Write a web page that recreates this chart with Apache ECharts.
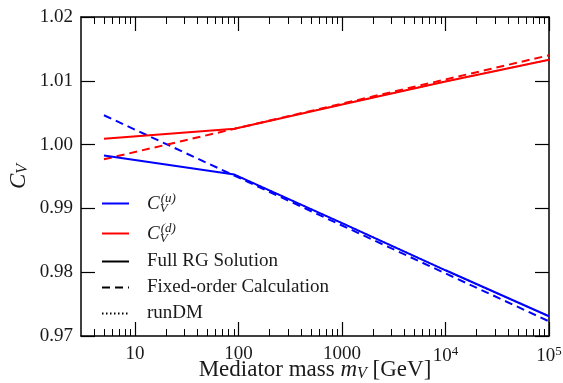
<!DOCTYPE html>
<html>
<head>
<meta charset="utf-8">
<script src="https://cdn.jsdelivr.net/npm/echarts@6/dist/echarts.min.js"></script>
<style>html,body{margin:0;padding:0;background:#fff}#c{width:563px;height:383px}</style>
</head>
<body>
<div id="c"></div>
<script>
// ---- data ----
const massFull = [5, 91.19, 1000, 10000, 100000];          // GeV
const cuFull   = [0.9983, 0.9953, 0.9877, 0.9803, 0.9731];
const cdFull   = [1.0009, 1.0025, 1.0063, 1.0099, 1.0133];
const massFixed = [5, 100000];
const cuFixed  = [1.0046, 0.9723];
const cdFixed  = [0.9977, 1.0140];
const massRun  = [91.19, 1000, 10000, 100000];
const cuRun    = [0.9953, 0.9877, 0.9803, 0.9731];
const cdRun    = [1.0025, 1.0063, 1.0099, 1.0133];
const xMin = 3, xMax = 100000;
const xMajorExp = [1, 2, 3, 4, 5];
const xMajorLabels = ['10', '100', '1000', '{b|10}{sup|4}', '{b|10}{sup|5}'];
const yTicks = [0.97, 0.98, 0.99, 1.00, 1.01, 1.02];
const legendNames = ['Cu', 'Cd', 'Full RG Solution', 'Fixed-order Calculation', 'runDM'];

const L = Math.log10;
const pts = (xs, ys) => xs.map((x, i) => [L(x), ys[i]]);
const minorTicks = [];
for (let e = 0; e <= 4; e++) for (let k = 2; k <= 9; k++) {
  const v = k * Math.pow(10, e);
  if (v > xMin && v < xMax) minorTicks.push(L(v));
}
const FONT = 'Liberation Serif';
const TXT = '#1a1a1a';
const richBase = {
  b: {fontFamily: FONT, fontSize: 19, color: TXT},
  i: {fontFamily: FONT, fontSize: 19, fontStyle: 'italic', color: TXT},
  sup: {fontFamily: FONT, fontSize: 13, color: TXT, verticalAlign: 'top', padding: [0, 0, 10, 0]},
  subz: {fontFamily: FONT, fontSize: 13, fontStyle: 'italic', color: TXT, verticalAlign: 'bottom', padding: [10, 0, 0, 0], width: 1},
  supz: {fontFamily: FONT, fontSize: 13, fontStyle: 'italic', color: TXT, verticalAlign: 'top', padding: [0, 0, 10, 0]}
};
const richTitle = {
  i: {fontFamily: FONT, fontSize: 23, fontStyle: 'italic', color: TXT},
  sub: {fontFamily: FONT, fontSize: 16, fontStyle: 'italic', color: TXT, verticalAlign: 'bottom', padding: [9, 0, 0, 0]}
};
const xBase = {type: 'value', min: L(xMin), max: L(xMax), gridIndex: 0, splitLine: {show: false}};
const chart = echarts.init(document.getElementById('c'), null, {renderer: 'canvas'});
chart.setOption({
  animation: false,
  grid: {left: 81, right: 14, top: 17, bottom: 47, containLabel: false, outerBoundsMode: 'none'},
  xAxis: [
    Object.assign({}, xBase, {
      position: 'bottom',
      axisLine: {show: true, lineStyle: {color: '#000', width: 1.5}},
      axisTick: {show: true, inside: true, length: 14, customValues: xMajorExp, lineStyle: {color: '#000', width: 1.2}},
      axisLabel: {customValues: xMajorExp, margin: 9, fontFamily: FONT, fontSize: 19, color: TXT,
        formatter: v => xMajorLabels[xMajorExp.indexOf(Math.round(v))] || '', rich: richBase},
      name: 'Mediator mass {i|m}{sub|V} [GeV]', nameLocation: 'middle', nameGap: 21, nameMoveOverlap: false,
      nameTextStyle: {fontFamily: FONT, fontSize: 23, color: TXT, rich: richTitle}
    }),
    Object.assign({}, xBase, {
      position: 'bottom', axisLine: {show: false},
      axisTick: {show: true, inside: true, length: 7, customValues: minorTicks, lineStyle: {color: '#000', width: 1}},
      axisLabel: {show: false}
    }),
    Object.assign({}, xBase, {
      position: 'top',
      axisLine: {show: true, lineStyle: {color: '#000', width: 1.5}},
      axisTick: {show: true, inside: true, length: 14, customValues: xMajorExp, lineStyle: {color: '#000', width: 1.2}},
      axisLabel: {show: false}
    }),
    Object.assign({}, xBase, {
      position: 'top', axisLine: {show: false},
      axisTick: {show: true, inside: true, length: 7, customValues: minorTicks, lineStyle: {color: '#000', width: 1}},
      axisLabel: {show: false}
    })
  ],
  yAxis: [
    {type: 'value', min: yTicks[0], max: yTicks[yTicks.length - 1], interval: 0.01, position: 'left',
      splitLine: {show: false},
      axisLine: {show: true, lineStyle: {color: '#000', width: 1.5}},
      axisTick: {show: true, inside: true, length: 14, lineStyle: {color: '#000', width: 1.2}},
      axisLabel: {margin: 8, fontFamily: FONT, fontSize: 19, color: TXT, formatter: v => v.toFixed(2)},
      name: '{i|C}{sub|V}', nameLocation: 'middle', nameGap: 50, nameRotate: 90, nameMoveOverlap: false,
      nameTextStyle: {fontFamily: FONT, fontSize: 23, color: TXT, rich: richTitle}
    },
    {type: 'value', min: yTicks[0], max: yTicks[yTicks.length - 1], interval: 0.01, position: 'right',
      splitLine: {show: false},
      axisLine: {show: true, lineStyle: {color: '#000', width: 1.5}},
      axisTick: {show: true, inside: true, length: 14, lineStyle: {color: '#000', width: 1.2}},
      axisLabel: {show: false}
    }
  ],
  legend: {
    orient: 'vertical', left: 101, top: 192, padding: 0, itemWidth: 27, itemHeight: 14, itemGap: 7,
    selectedMode: false, data: legendNames,
    itemStyle: {opacity: 0, borderWidth: 0},
    formatter: n => n === 'Cu' ? '{i|C}{subz|V}{supz|(u)}' : n === 'Cd' ? '{i|C}{subz|V}{supz|(d)}' : n,
    textStyle: {fontFamily: FONT, fontSize: 19, color: TXT, padding: [0, 0, 0, 13], rich: richBase}
  },
  series: [
    {name: 'Cu', type: 'line', data: pts(massFull, cuFull), symbol: 'none', lineStyle: {color: '#0000ff', width: 2}, itemStyle: {color: '#0000ff'}, z: 3},
    {name: 'Cd', type: 'line', data: pts(massFull, cdFull), symbol: 'none', lineStyle: {color: '#ff0000', width: 2}, itemStyle: {color: '#ff0000'}, z: 3},
    {name: 'Cu', type: 'line', data: pts(massFixed, cuFixed), symbol: 'none', lineStyle: {color: '#0000ff', width: 2, type: [8, 5]}, itemStyle: {color: '#0000ff'}, z: 2},
    {name: 'Cd', type: 'line', data: pts(massFixed, cdFixed), symbol: 'none', lineStyle: {color: '#ff0000', width: 2, type: [8, 5]}, itemStyle: {color: '#ff0000'}, z: 2},
    {name: 'Cu', type: 'line', data: pts(massRun, cuRun), symbol: 'none', lineStyle: {color: '#0000ff', width: 1.5, type: [1.5, 2.5]}, itemStyle: {color: '#0000ff'}, z: 4},
    {name: 'Cd', type: 'line', data: pts(massRun, cdRun), symbol: 'none', lineStyle: {color: '#ff0000', width: 1.5, type: [1.5, 2.5]}, itemStyle: {color: '#ff0000'}, z: 4},
    {name: 'Full RG Solution', type: 'line', data: [], symbol: 'none', lineStyle: {color: '#000', width: 2}, itemStyle: {color: '#000'}},
    {name: 'Fixed-order Calculation', type: 'line', data: [], symbol: 'none', lineStyle: {color: '#000', width: 2, type: [8, 5]}, itemStyle: {color: '#000'}},
    {name: 'runDM', type: 'line', data: [], symbol: 'none', lineStyle: {color: '#000', width: 1.2, type: [1.5, 2.5]}, itemStyle: {color: '#000'}}
  ]
});
</script>
</body>
</html>
